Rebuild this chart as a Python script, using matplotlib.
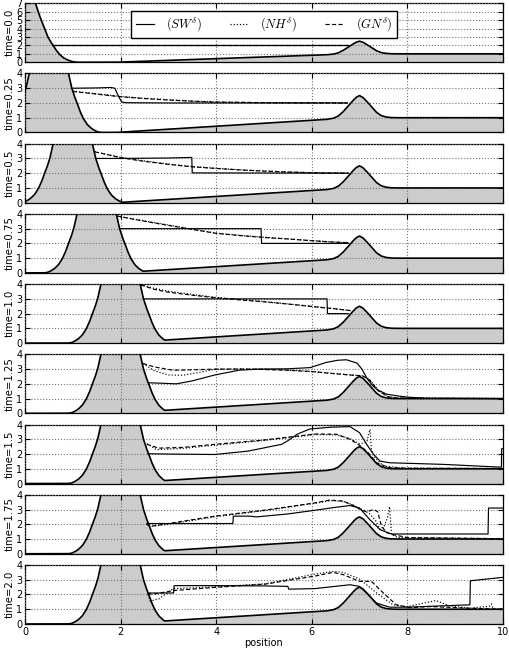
import numpy as np
import matplotlib
matplotlib.use('Agg')
import matplotlib.pyplot as plt

plt.rcParams['mathtext.fontset'] = 'cm'
plt.rcParams['font.family'] = ['DejaVu Sans']

# ---------------- data ----------------
times = [0.0, 0.25, 0.5, 0.75, 1.0, 1.25, 1.5, 1.75, 2.0]
gate_centers = [0.0, 0.5, 1.0, 1.5, 2.0, 2.0, 2.0, 2.0, 2.0]
gate_offset = [0.0, 0.1, 0.2, 0.3, 0.41, 0.48, 0.54, 0.59, 0.65, 0.72, 0.8, 0.88, 0.95, 1.02, 1.1, 20.0]
gate_height = [12.0, 9.8, 7.3, 5.6, 4.0, 3.0, 2.4, 2.0, 1.45, 0.95, 0.55, 0.3, 0.15, 0.04, 0.0, 0.0]
bed_x = [0.0, 1.9, 6.3, 6.45, 6.55, 6.65, 6.75, 6.85, 6.93, 7.0, 7.07, 7.15, 7.25, 7.35, 7.45, 7.55, 7.65, 7.75, 10.0]
bed_y = [0.0, 0.0, 0.88, 0.96, 1.1, 1.38, 1.75, 2.12, 2.38, 2.5, 2.38, 2.12, 1.75, 1.38, 1.15, 1.05, 1.01, 1.0, 1.0]

sw_x = [
    [0.57, 6.75],
    [1.0, 1.5, 1.8, 1.88, 1.95, 2.02, 2.1, 3.0, 6.75],
    [1.48, 2.0, 3.0, 3.49, 3.5, 6.77],
    [1.98, 4.94, 4.95, 6.77],
    [2.48, 6.32, 6.33, 6.77],
    [2.58, 2.8, 3.17, 3.5, 3.97, 4.49, 4.92, 5.5, 5.97, 6.3, 6.55, 6.73, 6.95, 7.05, 7.16, 7.27, 7.37, 7.57, 7.8, 8.0, 8.4, 10.0],
    [2.57, 3.0, 3.97, 4.67, 5.37, 5.5, 5.7, 5.96, 6.4, 6.8, 7.0, 7.15, 7.29, 7.43, 7.63, 8.75, 9.97, 9.975, 10.0],
    [2.56, 4.35, 4.36, 4.7, 4.85, 5.5, 6.07, 6.5, 6.8, 7.0, 7.22, 7.43, 7.67, 9.69, 9.7, 10.0],
    [2.57, 3.11, 3.12, 4.0, 5.0, 5.5, 5.52, 6.07, 6.8, 7.0, 7.18, 7.36, 7.63, 8.0, 9.31, 9.32, 10.0],
]
sw_y = [
    [2.0, 2.0],
    [3.0, 3.02, 3.05, 3.0, 2.5, 2.08, 2.02, 2.0, 2.0],
    [3.0, 3.0, 3.03, 3.07, 2.02, 2.0],
    [3.0, 3.0, 2.0, 2.0],
    [3.0, 3.0, 2.0, 2.0],
    [2.07, 2.05, 2.0, 2.2, 2.6, 2.93, 3.0, 3.02, 3.1, 3.45, 3.6, 3.63, 3.4, 3.0, 2.35, 1.9, 1.6, 1.3, 1.18, 1.1, 1.02, 1.0],
    [2.02, 2.0, 1.97, 2.2, 2.66, 2.9, 3.35, 3.7, 3.82, 3.86, 3.45, 2.66, 2.0, 1.52, 1.41, 1.3, 1.11, 2.36, 2.36],
    [2.05, 2.05, 2.55, 2.55, 2.5, 2.7, 2.95, 3.15, 3.27, 3.1, 2.3, 1.64, 1.34, 1.34, 3.1, 3.1],
    [2.1, 2.1, 2.6, 2.6, 2.58, 2.55, 2.36, 2.4, 2.66, 2.55, 2.0, 1.41, 1.14, 1.14, 1.3, 2.93, 3.16],
]

gn_x = [
    [0.57, 6.75],
    [1.0, 1.5, 2.0, 2.5, 3.0, 3.5, 4.0, 5.0, 6.75],
    [1.46, 2.0, 2.5, 3.0, 3.5, 4.0, 4.5, 5.0, 5.5, 6.1, 6.77],
    [1.93, 2.5, 3.0, 3.5, 4.0, 4.5, 5.0, 5.5, 6.0, 6.4, 6.77],
    [2.42, 2.7, 3.0, 3.5, 4.0, 4.5, 5.0, 5.5, 6.0, 6.5, 6.82],
    [2.47, 2.7, 3.1, 3.5, 4.0, 4.7, 5.5, 6.0, 6.5, 6.95, 7.05, 7.2, 7.4, 7.6, 7.8, 10.0],
    [2.55, 2.8, 3.3, 3.97, 5.0, 6.07, 6.52, 6.8, 7.0, 7.18, 7.36, 7.63, 8.0, 10.0],
    [2.54, 2.62, 3.0, 3.97, 5.0, 6.07, 6.38, 6.66, 6.87, 7.05, 7.15, 7.3, 7.38, 7.45, 7.55, 7.7, 8.0, 10.0],
    [2.57, 2.65, 3.12, 3.97, 5.02, 6.07, 6.45, 6.66, 7.0, 7.25, 7.5, 7.77, 8.05, 8.5, 9.3, 10.0],
]
gn_y = [
    [2.0, 2.0],
    [2.78, 2.6, 2.42, 2.3, 2.2, 2.12, 2.06, 2.02, 2.0],
    [3.45, 3.05, 2.8, 2.6, 2.43, 2.32, 2.22, 2.14, 2.08, 2.02, 2.0],
    [3.85, 3.5, 3.22, 2.95, 2.68, 2.53, 2.4, 2.3, 2.18, 2.1, 2.05],
    [3.95, 3.65, 3.45, 3.25, 3.07, 2.93, 2.8, 2.65, 2.48, 2.32, 2.2],
    [3.38, 3.15, 2.92, 2.95, 3.0, 3.0, 2.92, 2.83, 2.68, 2.56, 2.55, 2.3, 1.5, 1.12, 1.03, 1.0],
    [2.66, 2.4, 2.45, 2.66, 2.95, 3.36, 3.34, 3.0, 2.6, 2.1, 1.4, 1.07, 1.04, 1.02],
    [2.0, 1.86, 2.05, 2.55, 2.95, 3.45, 3.64, 3.57, 3.27, 2.95, 2.85, 3.0, 2.85, 2.0, 1.45, 1.3, 1.1, 1.02],
    [2.1, 2.0, 2.27, 2.48, 2.7, 3.25, 3.5, 3.34, 2.89, 2.89, 2.1, 1.3, 1.11, 1.18, 1.07, 1.0],
]

nh_x = [
    [0.57, 6.75],
    [1.0, 1.5, 2.0, 2.5, 3.0, 3.5, 4.0, 5.0, 6.75],
    [1.46, 2.0, 2.5, 3.0, 3.5, 4.0, 4.5, 5.0, 5.5, 6.1, 6.77],
    [1.93, 2.5, 3.0, 3.5, 4.0, 4.5, 5.0, 5.5, 6.0, 6.4, 6.77],
    [2.42, 2.7, 3.0, 3.5, 4.0, 4.5, 5.0, 5.5, 6.0, 6.5, 6.82],
    [2.47, 2.7, 3.0, 3.3, 3.6, 3.97, 4.5, 5.0, 5.5, 6.0, 6.5, 6.95, 7.05, 7.2, 7.4, 7.6, 7.8, 10.0],
    [2.55, 2.75, 3.3, 3.97, 5.0, 6.07, 6.52, 6.8, 7.0, 7.15, 7.22, 7.25, 7.29, 7.5, 8.0, 10.0],
    [2.54, 2.62, 3.0, 3.97, 5.0, 6.07, 6.38, 6.66, 6.87, 7.05, 7.2, 7.35, 7.43, 7.52, 7.58, 7.63, 7.67, 7.8, 10.0],
    [2.57, 2.62, 2.8, 3.1, 3.5, 3.97, 5.02, 6.0, 6.45, 6.66, 7.0, 7.36, 7.7, 8.0, 8.6, 8.88, 9.3, 9.72, 9.76, 9.8, 10.0],
]
nh_y = [
    [2.0, 2.0],
    [2.8, 2.63, 2.44, 2.32, 2.22, 2.13, 2.07, 2.02, 2.0],
    [3.45, 3.08, 2.83, 2.62, 2.45, 2.33, 2.23, 2.15, 2.08, 2.03, 2.0],
    [3.85, 3.53, 3.25, 2.97, 2.7, 2.55, 2.42, 2.31, 2.19, 2.11, 2.05],
    [3.95, 3.72, 3.52, 3.3, 3.1, 2.95, 2.82, 2.66, 2.5, 2.33, 2.2],
    [3.38, 2.9, 2.6, 2.58, 2.75, 2.98, 3.02, 3.0, 2.93, 2.84, 2.69, 2.57, 2.56, 2.32, 1.55, 1.14, 1.04, 1.0],
    [2.7, 2.3, 2.38, 2.6, 2.92, 3.32, 3.3, 3.05, 2.7, 2.8, 3.68, 2.3, 1.86, 1.18, 1.04, 1.02],
    [2.05, 1.85, 2.0, 2.5, 2.92, 3.42, 3.6, 3.55, 3.3, 3.0, 2.75, 2.2, 1.64, 1.9, 2.4, 3.2, 1.3, 1.1, 1.02],
    [2.0, 1.55, 1.7, 2.4, 2.45, 2.52, 2.72, 3.34, 3.57, 3.5, 3.05, 2.1, 1.3, 1.18, 1.59, 1.23, 1.07, 1.2, 1.36, 1.0, 1.0],
]

# ---------------- figure ----------------
fig, axes = plt.subplots(9, 1, sharex=True, figsize=(5.1, 6.51), dpi=100)
fig.subplots_adjust(left=0.049, right=0.986, top=0.995, bottom=0.0415, hspace=0.19)

xg = np.linspace(0, 10, 2001)
bed = np.interp(xg, bed_x, bed_y)

for i, ax in enumerate(axes):
    gate = np.interp(np.abs(xg - gate_centers[i]), gate_offset, gate_height)
    bottom = np.maximum(bed, gate)
    ax.fill_between(xg, 0, bottom, color='0.8', lw=0, zorder=1)
    ax.plot(xg, bottom, color='k', lw=1.2, zorder=3)
    l1, = ax.plot(sw_x[i], sw_y[i], color='k', lw=0.85, ls='-', zorder=4)
    l2, = ax.plot(nh_x[i], nh_y[i], color='k', lw=0.85, ls=':', zorder=4)
    l3, = ax.plot(gn_x[i], gn_y[i], color='k', lw=0.85, ls='--', dashes=(3.5, 2), zorder=4)
    ax.set_xlim(0, 10)
    if i == 0:
        ax.set_ylim(0, 7)
        ax.set_yticks(range(0, 8))
    else:
        ax.set_ylim(0, 4)
        ax.set_yticks(range(0, 5))
    ax.set_xticks(range(0, 11, 2))
    ax.grid(True, color='0.45', ls=':', lw=0.8)
    ax.set_axisbelow(False)
    ax.tick_params(direction='in', top=True, right=True, length=3.5, labelsize=7, pad=2)
    ax.set_ylabel('time=%s' % times[i], fontsize=7.3, labelpad=1)
    for s in ax.spines.values():
        s.set_linewidth(0.9)
    if i == 0:
        ax.legend([l1, l2, l3], [r'$(SW^\delta)$', r'$(NH^\delta)$', r'$(GN^\delta)$'],
                  loc='upper center', bbox_to_anchor=(0.5, 0.97), ncol=3, fontsize=9,
                  fancybox=False, framealpha=1, edgecolor='k', handlelength=1.45,
                  handletextpad=1.0, columnspacing=2.2, borderpad=0.35)

axes[-1].set_xlabel('position', fontsize=7, labelpad=1)
fig.savefig('out.png', dpi=100)
